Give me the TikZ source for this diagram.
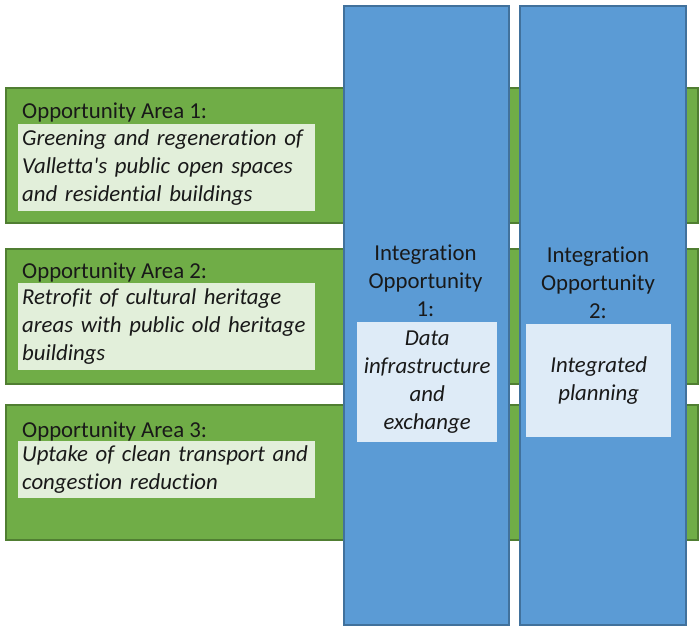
\documentclass[tikz,border=0pt]{standalone}
\usepackage{fontspec}
\setmainfont{Carlito}[Ligatures={TeXOff,NoCommon}]
\usetikzlibrary{positioning}

\definecolor{areagreen}{HTML}{70AD47}
\definecolor{areaedge}{HTML}{507E32}
\definecolor{arealight}{HTML}{E2EFDA}
\definecolor{intblue}{HTML}{5B9BD5}
\definecolor{intedge}{HTML}{41719C}
\definecolor{intlight}{HTML}{DEEBF7}

\begin{document}
\begin{tikzpicture}[x=1pt, y=-1pt,
  every node/.style={font=\fontsize{22.8}{28}\selectfont, text=black!90},
  area/.style={draw=areaedge, fill=areagreen, line width=1.5pt, anchor=north west,
    inner sep=0pt, minimum width=692pt, minimum height=135pt},
  areatitle/.style={anchor=base west, inner sep=0pt},
  areabox/.style={fill=arealight, anchor=north west, inner xsep=4pt, inner ysep=0pt,
    text width=289pt, align=left, minimum width=297pt, font=\fontsize{22.8}{28}\selectfont\itshape},
  column/.style={draw=intedge, fill=intblue, line width=1.5pt, anchor=north west,
    inner sep=0pt, minimum width=165pt, minimum height=619pt},
  coltitle/.style={align=center, inner sep=0pt},
  colbox/.style={fill=intlight, anchor=north west, inner sep=1pt, align=center,
    font=\fontsize{22.8}{28}\selectfont\itshape}]
\useasboundingbox (0,0) rectangle (699,625);

% opportunity areas
\node (area1) [area] at (5,87) {};
\node (area2) [area] at (5,248) {};
\node (area3) [area] at (5,404) {};

\node (title1) [areatitle] at (22,118) {Opportunity Area 1:};
\node (box1) [areabox, minimum height=87pt] at (18,124)
  {Greening and regeneration of\\Valletta's public open spaces\\and residential buildings};
\node (title2) [areatitle] at (22,278) {Opportunity Area 2:};
\node (box2) [areabox, minimum height=87pt] at (18,283)
  {Retrofit of cultural heritage\\areas with public old heritage\\buildings};
\node (title3) [areatitle] at (22,437) {Opportunity Area 3:};
\node (box3) [areabox, minimum height=57pt] at (18,441)
  {Uptake of clean transport and\\congestion reduction};

% integration opportunities
\node (int1) [column] at (343,5) {};
\node (int2) [column, minimum width=166pt] at (519,5) {};

\node (inttitle1) [coltitle] at (425.5,280.5) {Integration\\Opportunity\\1:};
\node (intbox1) [colbox, text width=138pt, minimum height=120pt] at (357,322)
  {Data\\infrastructure\\and\\exchange};
\node (inttitle2) [coltitle] at (598,282.5) {Integration\\Opportunity\\2:};
\node (intbox2) [colbox, text width=143pt, minimum height=113pt] at (526,324)
  {Integrated\\planning};
\end{tikzpicture}
\end{document}
